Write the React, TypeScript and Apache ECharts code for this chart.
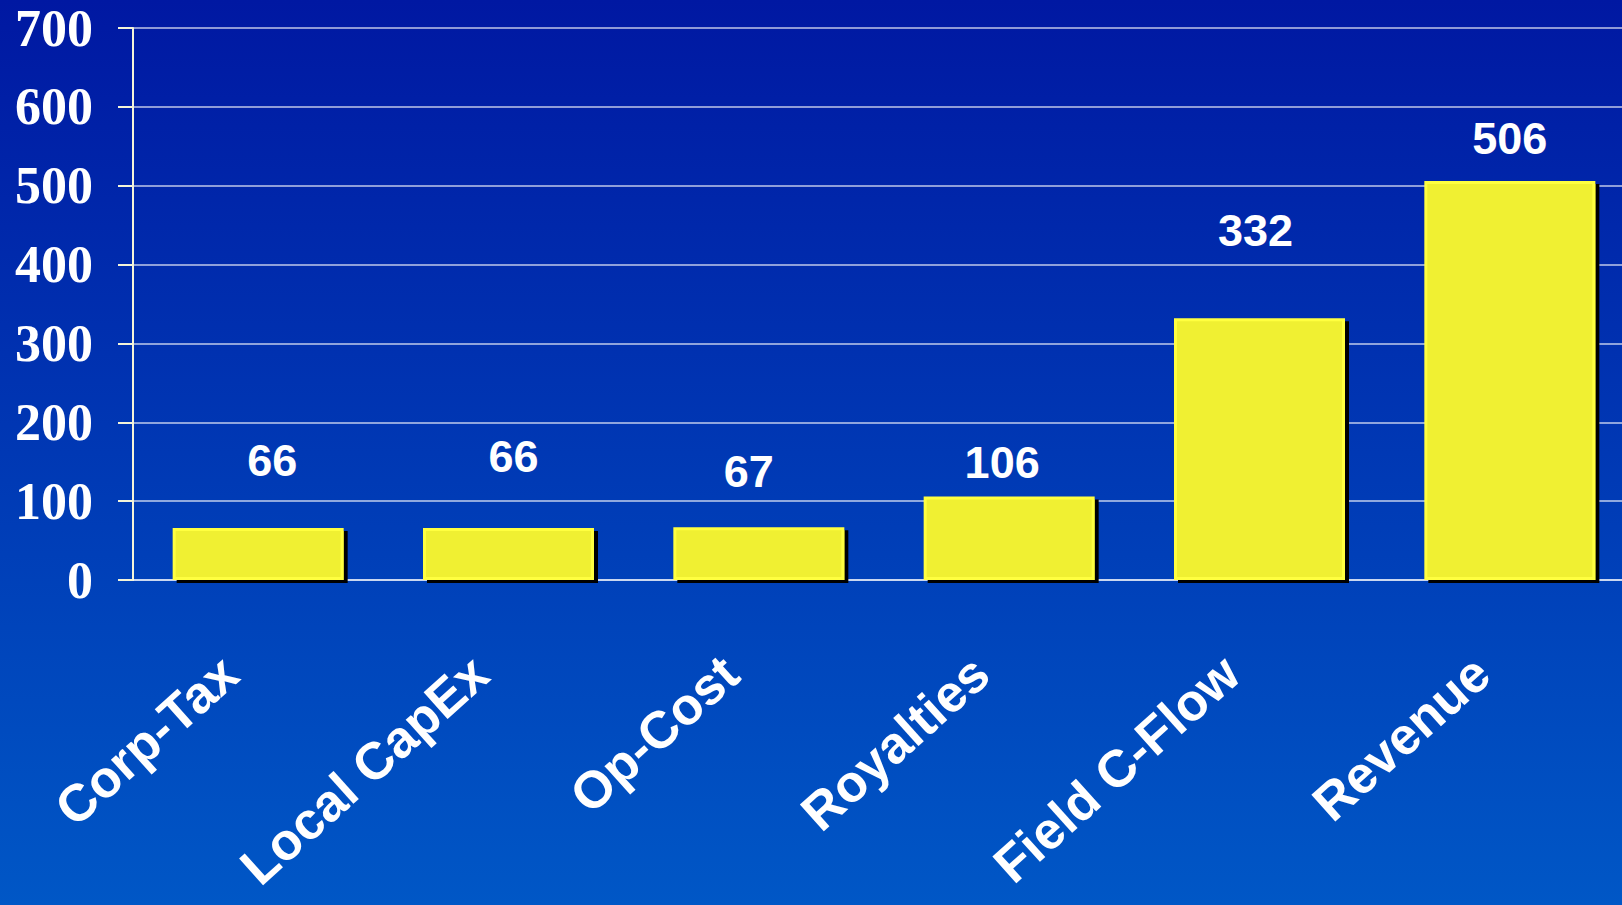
import React, { useEffect, useRef } from "react";
import * as echarts from "echarts";

const categories = ["Corp-Tax", "Local CapEx", "Op-Cost", "Royalties", "Field C-Flow", "Revenue"];
const values = [66, 66, 67, 106, 332, 506];
const labelOffsets: [number, number][] = [
  [14, -45],
  [5, -49],
  [-10, -33],
  [-7, -11],
  [-4, -65],
  [0, -20],
];

export default function App() {
  const ref = useRef<HTMLDivElement>(null);
  useEffect(() => {
    if (!ref.current) return;
    const chart = echarts.init(ref.current, undefined, { renderer: "svg" });
    chart.setOption({
      animation: false,
      backgroundColor: "transparent",
      grid: {
        left: 133,
        top: 28,
        bottom: 325,
        right: 5,
        containLabel: false,
        outerBoundsMode: "none",
      },
      xAxis: {
        type: "category",
        data: categories,
        axisLine: { show: true, lineStyle: { color: "rgba(255,255,255,0.7)", width: 1.5 } },
        axisTick: { show: false },
        axisLabel: {
          interval: 0,
          rotate: 42,
          margin: 60,
          padding: [0, 38, 0, 0],
          color: "#ffffff",
          fontFamily: "Liberation Sans, Arial, sans-serif",
          fontWeight: "bold",
          fontSize: 52,
        },
      },
      yAxis: {
        type: "value",
        min: 0,
        max: 700,
        interval: 100,
        axisLine: { show: true, lineStyle: { color: "#F4F4D8", width: 2 } },
        axisTick: { show: true, length: 15, lineStyle: { color: "#F4F4D8", width: 2 } },
        axisLabel: {
          margin: 40,
          color: "#ffffff",
          fontFamily: "Liberation Serif, 'Times New Roman', serif",
          fontWeight: "bold",
          fontSize: 52,
        },
        splitLine: { show: true, lineStyle: { color: "rgba(255,255,255,0.75)", width: 1.5 } },
      },
      series: [
        {
          type: "bar",
          barWidth: 171,
          data: values.map((v, i) => ({
            value: v,
            label: { offset: labelOffsets[i] },
          })),
          itemStyle: {
            color: "#F0F032",
            borderColor: "#FFFF40",
            borderWidth: 3,
            shadowColor: "#000000",
            shadowBlur: 0,
            shadowOffsetX: 4,
            shadowOffsetY: 3,
          },
          label: {
            show: true,
            position: "top",
            distance: 0,
            color: "#ffffff",
            fontFamily: "Liberation Sans, Arial, sans-serif",
            fontWeight: "bold",
            fontSize: 45,
          },
        },
      ],
    });
    return () => chart.dispose();
  }, []);
  return (
    <div
      style={{
        position: "fixed",
        left: 0,
        top: 0,
        width: 1622,
        height: 905,
        overflow: "hidden",
        background: "linear-gradient(to bottom, #0018A2 0%, #0038B4 50%, #0057C6 100%)",
      }}
    >
      <div ref={ref} style={{ width: 1640, height: 905 }} />
    </div>
  );
}
